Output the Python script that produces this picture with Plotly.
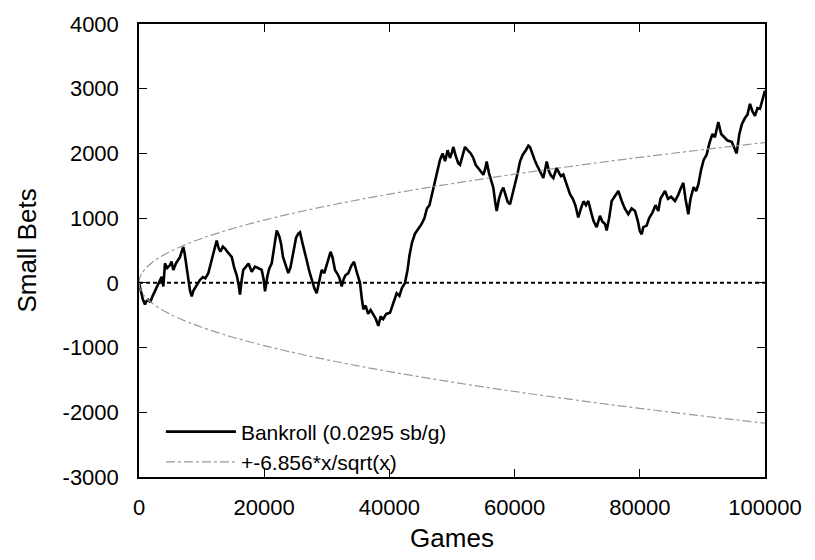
import plotly.graph_objects as go

# Bankroll curve (games, small bets)
games = [0, 300, 600, 960, 1200, 1490, 1800, 2100, 2500, 2820, 3200, 3620, 3890, 4150, 4500, 4950,
         5200, 5480, 5900, 6550, 6800, 7080, 7300, 7600, 7880, 8150, 8420, 8700, 8950, 9300, 9740,
         10200, 10600, 11070, 11300, 11600, 12000, 12410, 12700, 13000, 13400, 13740, 14200, 14810,
         15200, 15600, 15900, 16130, 16400, 16660, 17000, 17500, 18000, 18530, 19000, 19600, 19900,
         20130, 20500, 20800, 21200, 21600, 22000, 22400, 22700, 23000, 23320, 23600, 23850, 24200,
         24700, 25100, 25450, 25720, 26100, 26400, 26790, 27200, 27600, 28000, 28380, 28700, 29180,
         29600, 30000, 30600, 30900, 31310, 31700, 32000, 32380, 32700, 33000, 33440, 33900, 34350,
         34800, 35300, 35600, 35840, 36200, 36600, 37000, 37430, 37800, 38230, 38600, 39000, 39500,
         40100, 40600, 41160, 41600, 42000, 42490, 42900, 43200, 43600, 44090, 44500, 45150, 45600,
         46000, 46400, 47000, 47400, 47800, 48080, 48500, 48900, 49300, 49680, 50000, 50210, 50600,
         51000, 51280, 51700, 52080, 52500, 53000, 53400, 53800, 54300, 55000, 55300, 55540, 55900,
         56300, 56600, 56900, 57140, 57500, 57900, 58200, 58600, 58900, 59270, 59700, 60200, 60500,
         60860, 61300, 61800, 62200, 62460, 62800, 63200, 63530, 63900, 64300, 64590, 64900, 65130,
         65500, 65800, 66190, 66500, 66720, 67100, 67400, 67780, 68200, 68500, 68850, 69300, 69700,
         70000, 70170, 70600, 71000, 71400, 71770, 72200, 72600, 73110, 73640, 74000, 74440, 74710,
         75100, 75510, 76000, 76570, 77110, 77600, 78160, 78700, 79230, 79700, 80000, 80300, 80560,
         81090, 81500, 82000, 82500, 82960, 83300, 83700, 84030, 84500, 85000, 85620, 86100, 86500,
         86950, 87300, 87750, 88100, 88600, 89000, 89350, 89800, 90200, 90680, 91100, 91600, 92000,
         92540, 93000, 93500, 94000, 94680, 95100, 95470, 95900, 96300, 96800, 97200, 97600, 98000,
         98400, 98800, 99200, 99500, 100000]
bankroll = [0, -120, -250, -335, -280, -260, -300, -220, -140, -55, 20, 95, -55, 300, 230, 275,
            330, 200, 300, 400, 480, 555, 450, 220, 0, -120, -210, -120, -80, -20, 45,
            90, 70, 150, 260, 350, 500, 655, 540, 480, 560, 530, 470, 400,
            240, 120, -20, -180, 40, 200, 240, 300, 170, 250, 230, 200, 60,
            -130, 100, 220, 300, 560, 810, 720, 600, 400, 300, 220, 150, 240,
            520, 700, 760, 780, 620, 480, 350, 180, 40, -80, -160, 0, 200,
            150, 300, 480, 400, 200, 140, 80, -55, 60, 120, 150, 260, 325,
            160, 0, -250, -410, -350, -480, -420, -490, -550, -665, -520, -560, -480,
            -460, -300, -160, -200, -80, 0, 200, 420, 620, 760, 820, 910, 1000,
            1150, 1200, 1450, 1650, 1820, 1900, 2000, 1880, 2050, 1930, 2020, 2100, 1960,
            1850, 1825, 1980, 2100, 2050, 2000, 1930, 1820, 1760, 1670, 1760, 1875, 1700,
            1560, 1470, 1250, 1110, 1300, 1420, 1470, 1330, 1250, 1215, 1380, 1560, 1700,
            1875, 1980, 2050, 2120, 2100, 2000, 1900, 1825, 1750, 1680, 1620, 1760, 1875,
            1720, 1660, 1620, 1720, 1775, 1700, 1650, 1675, 1560, 1450, 1370, 1300, 1200,
            1080, 1010, 1150, 1260, 1200, 1265, 1100, 960, 860, 1036, 950, 910, 810,
            1000, 1265, 1340, 1420, 1265, 1150, 1060, 1150, 1110, 950, 800, 750, 860,
            885, 1000, 1080, 1200, 1110, 1300, 1380, 1420, 1300, 1330, 1265, 1350, 1450,
            1545, 1300, 1060, 1300, 1480, 1420, 1520, 1750, 1900, 1980, 2150, 2300, 2250,
            2485, 2300, 2250, 2200, 2180, 2080, 2000, 2300, 2450, 2550, 2600, 2765, 2650,
            2580, 2700, 2690, 2800, 2970]

# Envelope curve (upper branch)
env_games = [0, 100, 250, 500, 1000, 2000, 3000, 5000, 7500, 10000, 15000, 20000, 25000, 30000,
             35000, 40000, 45000, 50000, 55000, 60000, 65000, 70000, 75000, 80000, 85000, 90000,
             95000, 100000]
env_upper = [0, 69, 108, 153, 217, 307, 376, 485, 594, 686, 840, 970, 1084, 1188,
             1283, 1371, 1454, 1533, 1608, 1679, 1748, 1814, 1878, 1939, 1999, 2057,
             2113, 2168]
env_lower = [-v for v in env_upper]

x_ticks = [0, 20000, 40000, 60000, 80000, 100000]
y_ticks = [-3000, -2000, -1000, 0, 1000, 2000, 3000, 4000]

FONT = "Liberation Sans, Arial, sans-serif"

fig = go.Figure()
fig.add_trace(go.Scatter(x=games, y=bankroll, mode="lines", name="Bankroll (0.0295 sb/g)",
                         line=dict(color="black", width=2.6)))
fig.add_trace(go.Scatter(x=env_games, y=env_upper, mode="lines", name="+-6.856*x/sqrt(x)",
                         line=dict(color="#9a9a9a", width=1.2, dash="dashdot", shape="spline")))
fig.add_trace(go.Scatter(x=env_games, y=env_lower, mode="lines", showlegend=False,
                         line=dict(color="#9a9a9a", width=1.2, dash="dashdot", shape="spline")))
fig.add_hline(y=0, line=dict(color="black", width=2, dash="4px,3px"), layer="below")

fig.update_layout(
    width=815, height=560,
    margin=dict(l=139, r=50, t=21, b=80),
    paper_bgcolor="white", plot_bgcolor="white",
    font=dict(family=FONT, size=22, color="black"),
    showlegend=True,
    legend=dict(x=0.035, y=-0.012, xanchor="left", yanchor="bottom",
                bgcolor="rgba(255,255,255,0)", font=dict(size=21), tracegroupgap=0,
                itemwidth=70),
)
fig.update_xaxes(range=[0, 100000], tickvals=x_ticks, ticktext=[str(v) for v in x_ticks],
                 showgrid=False, zeroline=False, showline=True, linecolor="black", linewidth=1.5,
                 mirror="allticks", ticks="inside", ticklen=8, tickcolor="black",
                 ticklabelstandoff=10,
                 title=dict(text="Games", standoff=10))
fig.update_yaxes(range=[-3000, 4000], tickvals=y_ticks, ticktext=[str(v) for v in y_ticks],
                 showgrid=False, zeroline=False, showline=True, linecolor="black", linewidth=1.5,
                 mirror="allticks", ticks="inside", ticklen=8, tickcolor="black",
                 ticklabelstandoff=14,
                 title=dict(text="Small Bets", standoff=18))

fig.write_html("out.html")
